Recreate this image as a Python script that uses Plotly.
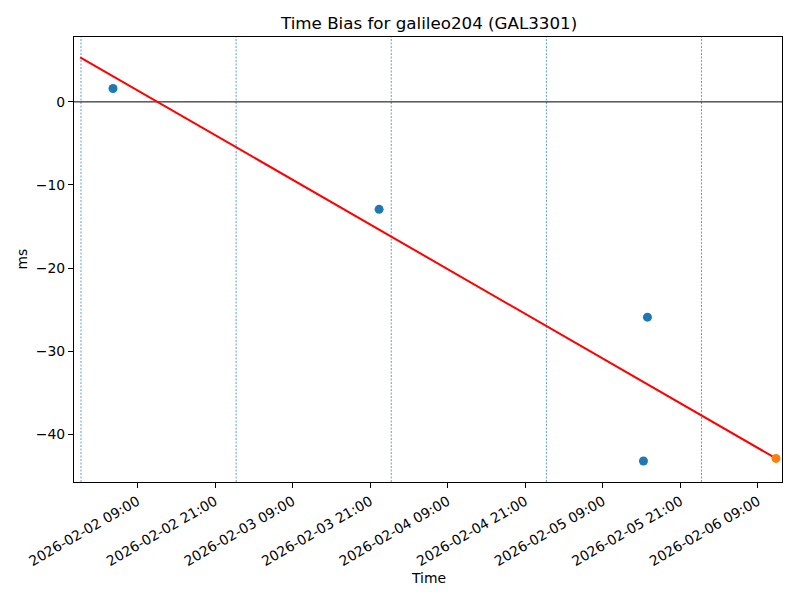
import plotly.graph_objects as go

# Data
obs_times = ["2026-02-02 05:13", "2026-02-03 22:23", "2026-02-05 15:54", "2026-02-05 15:17"]
obs_bias_ms = [1.61, -12.93, -25.91, -43.22]

pred_time = ["2026-02-06 11:47"]
pred_bias_ms = [-42.91]

fit_times = ["2026-02-02 00:08", "2026-02-06 11:47"]
fit_bias_ms = [5.37, -42.91]

day_lines = ["2026-02-02 00:16", "2026-02-03 00:16", "2026-02-04 00:16",
             "2026-02-05 00:16", "2026-02-06 00:16"]

tick_times = ["2026-02-02 09:00", "2026-02-02 21:00", "2026-02-03 09:00",
              "2026-02-03 21:00", "2026-02-04 09:00", "2026-02-04 21:00",
              "2026-02-05 09:00", "2026-02-05 21:00", "2026-02-06 09:00"]
y_ticks = [0, -10, -20, -30, -40]

x_range = ["2026-02-01 23:11", "2026-02-06 12:43"]
y_range = [-45.75, 7.81]

FONT = "DejaVu Sans"

fig = go.Figure()

fig.add_trace(go.Scatter(x=fit_times, y=fit_bias_ms, mode="lines",
                         line=dict(color="red", width=2), showlegend=False))
fig.add_trace(go.Scatter(x=obs_times, y=obs_bias_ms, mode="markers",
                         marker=dict(color="#1f77b4", size=9), showlegend=False))
fig.add_trace(go.Scatter(x=pred_time, y=pred_bias_ms, mode="markers",
                         marker=dict(color="#ff7f0e", size=9), showlegend=False))

shapes = []
for t in day_lines:
    shapes.append(dict(type="line", xref="x", yref="paper", x0=t, x1=t, y0=0, y1=1,
                       line=dict(color="#1f77b4", width=0.7, dash="2px,1.5px"), layer="below"))
shapes.append(dict(type="line", xref="paper", yref="y", x0=0, x1=1, y0=0, y1=0,
                   line=dict(color="black", width=1), layer="below"))

# page body has an 8px margin, so the plot area is shifted up/left to compensate
fig.update_layout(
    width=800, height=600,
    margin=dict(l=66, r=26, t=29, b=126),
    plot_bgcolor="white", paper_bgcolor="white",
    font=dict(family=FONT, size=13.9, color="black"),
    shapes=shapes,
    annotations=[
        dict(text="Time Bias for galileo204 (GAL3301)", xref="paper", yref="paper",
             x=0.5, y=1, yshift=2, xanchor="center", yanchor="bottom", showarrow=False,
             font=dict(family=FONT, size=16.7, color="black")),
        dict(text="Time", xref="paper", yref="paper", x=0.5, y=0, yshift=-86,
             xanchor="center", yanchor="top", showarrow=False,
             font=dict(family=FONT, size=13.9, color="black")),
        dict(text="ms", xref="paper", yref="paper", x=0, xshift=-53, y=0.5,
             xanchor="center", yanchor="middle", textangle=-90, showarrow=False,
             font=dict(family=FONT, size=13.9, color="black")),
    ],
)

fig.update_xaxes(
    type="date", range=x_range, tickvals=tick_times, tickformat="%Y-%m-%d %H:%M",
    tickangle=-30, showgrid=False, zeroline=False, automargin=False,
    showline=True, linecolor="black", linewidth=1.1, mirror=True,
    ticks="outside", ticklen=5, tickcolor="black", tickwidth=1.1,
    tickfont=dict(family=FONT, size=13.9, color="black"),
)
fig.update_yaxes(
    range=y_range, tickvals=y_ticks, showgrid=False, zeroline=False, automargin=False,
    showline=True, linecolor="black", linewidth=1.1, mirror=True,
    ticks="outside", ticklen=5, tickcolor="black", tickwidth=1.1,
    tickfont=dict(family=FONT, size=13.9, color="black"),
)

fig.write_html("out.html")
